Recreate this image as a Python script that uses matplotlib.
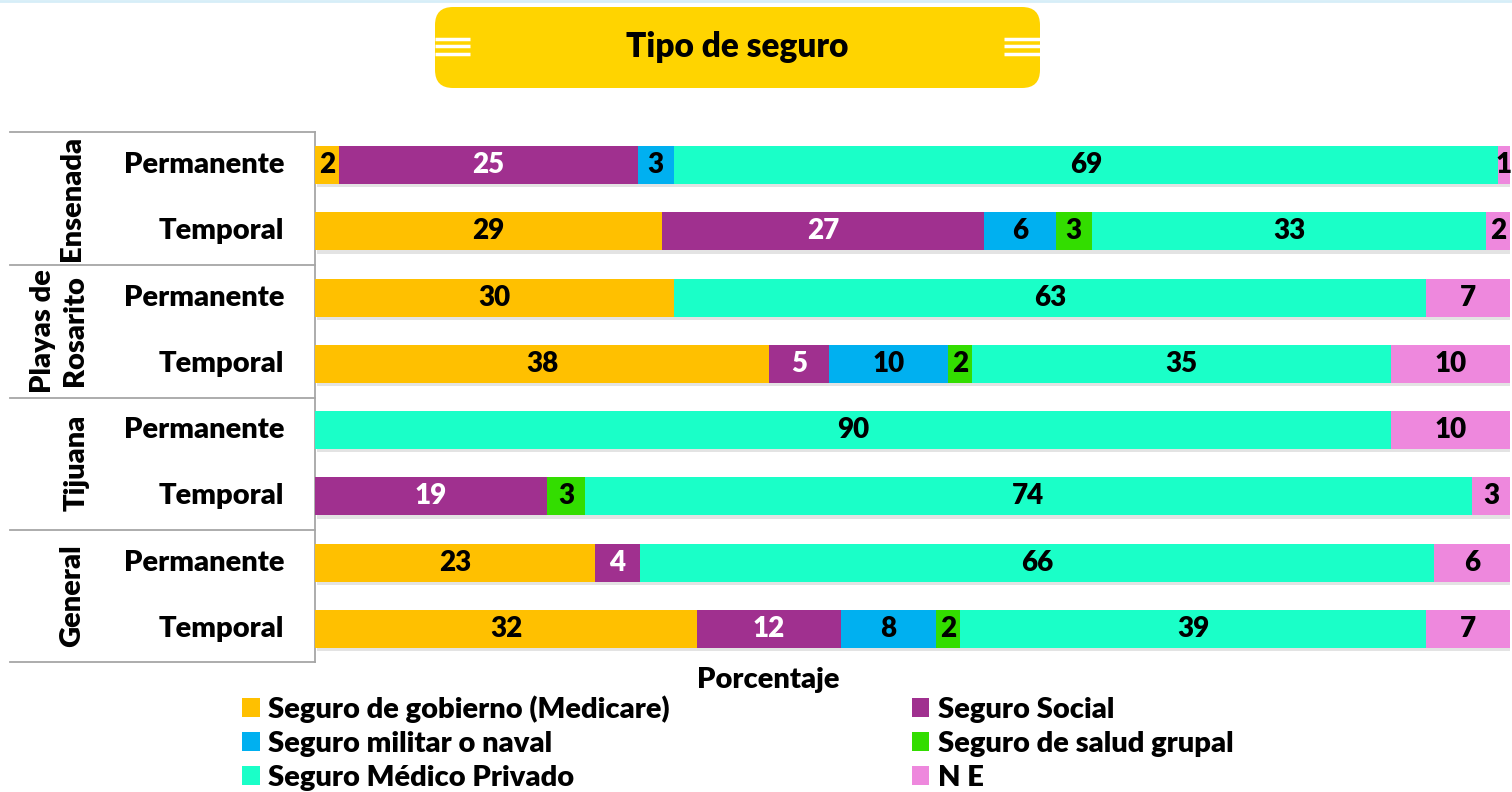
import numpy as np
import matplotlib.pyplot as plt
import matplotlib.patheffects as pe
from matplotlib.patches import FancyBboxPatch, Patch

plt.rcParams['font.family'] = ['Lato', 'DejaVu Sans']
plt.rcParams['font.weight'] = 'heavy'

# data
groups = ['Ensenada', 'Playas de\nRosarito', 'Tijuana', 'General']
rows = ['Permanente', 'Temporal'] * 4
series = ['Seguro de gobierno (Medicare)', 'Seguro Social', 'Seguro militar o naval',
          'Seguro de salud grupal', 'Seguro Médico Privado', 'N E']
gobierno = [2, 29, 30, 38, 0, 0, 23.4, 32]
social = [25, 27, 0, 5, 0, 19.4, 3.8, 12]
militar = [3, 6, 0, 10, 0, 0, 0, 8]
grupal = [0, 3, 0, 2, 0, 3.2, 0, 2]
privado = [69, 33, 63, 35, 90, 74.2, 66.4, 39]
ne = [1, 2, 7, 10, 10, 3.2, 6.4, 7]
values = [gobierno, social, militar, grupal, privado, ne]
colors = ['#FFC000', '#A0308F', '#00B0F0', '#33DD00', '#1AFFC8', '#EE88DD']
text_colors = ['black', 'white', 'black', 'black', 'black', 'black']

W, H = 1512, 792
fig = plt.figure(figsize=(W / 100, H / 100), dpi=100)

# overlay in pixel units for title box and table lines
deco = fig.add_axes([0, 0, 1, 1])
deco.set_xlim(0, W)
deco.set_ylim(H, 0)
deco.axis('off')

deco.plot([0, W], [1, 1], color='#D6EEF8', lw=2)
box = FancyBboxPatch((435, 7), 605, 81, boxstyle='round,pad=0,rounding_size=18',
                     fc='#FFD400', ec='none')
deco.add_patch(box)
for yy in [39, 46, 54]:
    deco.plot([435, 470], [yy, yy], color='white', lw=2.5, solid_capstyle='butt')
    deco.plot([1004, 1040], [yy, yy], color='white', lw=2.5, solid_capstyle='butt')
deco.text(737, 47, 'Tipo de seguro', ha='center', va='center', fontsize=24)

# table lines
line_c = '#A6A6A6'
for yy in [132, 265, 398, 530, 662]:
    deco.plot([10, 315], [yy, yy], color=line_c, lw=1.3)
deco.plot([315, 315], [132, 662], color=line_c, lw=1.3)

# chart
top, bottom = 132, 662
ax = fig.add_axes([315 / W, 1 - bottom / H, (1510 - 315) / W, (bottom - top) / H])
ax.set_xlim(0, 100)
ax.set_ylim(len(rows) - 0.5, -0.5)
ax.axis('off')

y = np.arange(len(rows))
left = np.zeros(len(rows))
shadow = [pe.SimplePatchShadow(offset=(1.5, -2.5), shadow_rgbFace='#808080', alpha=0.22), pe.Normal()]
for vals, c, tc in zip(values, colors, text_colors):
    vals = np.array(vals, dtype=float)
    bars = ax.barh(y, vals, left=left, height=0.57, color=c, zorder=2)
    for b in bars:
        b.set_path_effects(shadow)
    for yi, v, l in zip(y, vals, left):
        if v > 0:
            ax.text(l + v / 2, yi, f'{v:.0f}', ha='center', va='center',
                    fontsize=20, color=tc, zorder=3)
    left += vals

# row labels
for i, r in enumerate(rows):
    yy = top + (i + 0.5) * (bottom - top) / len(rows)
    deco.text(284, yy, r, ha='right', va='center', fontsize=21)

group_x = [72, 59, 77, 72]
for i, g in enumerate(groups):
    yy = top + (i + 0.5) * (bottom - top) / len(groups)
    deco.text(group_x[i], yy, g, ha='center', va='center', rotation=90,
              fontsize=21, linespacing=1.3, multialignment='center')

deco.text(768, 680, 'Porcentaje', ha='center', va='center', fontsize=21)

# legend (column-major order)
order = [0, 2, 4, 1, 3, 5]
handles = [Patch(facecolor=colors[k], edgecolor='none', label=series[k]) for k in order]
fig.legend(handles=handles, ncol=2, loc='upper left', bbox_to_anchor=(242 / W, 1 - 695 / H),
           frameon=False, fontsize=21, handlelength=0.6, handleheight=0.65,
           handletextpad=0.3, columnspacing=8.3, labelspacing=0.28, borderaxespad=0,
           borderpad=0)

fig.savefig('out.png', dpi=100)
